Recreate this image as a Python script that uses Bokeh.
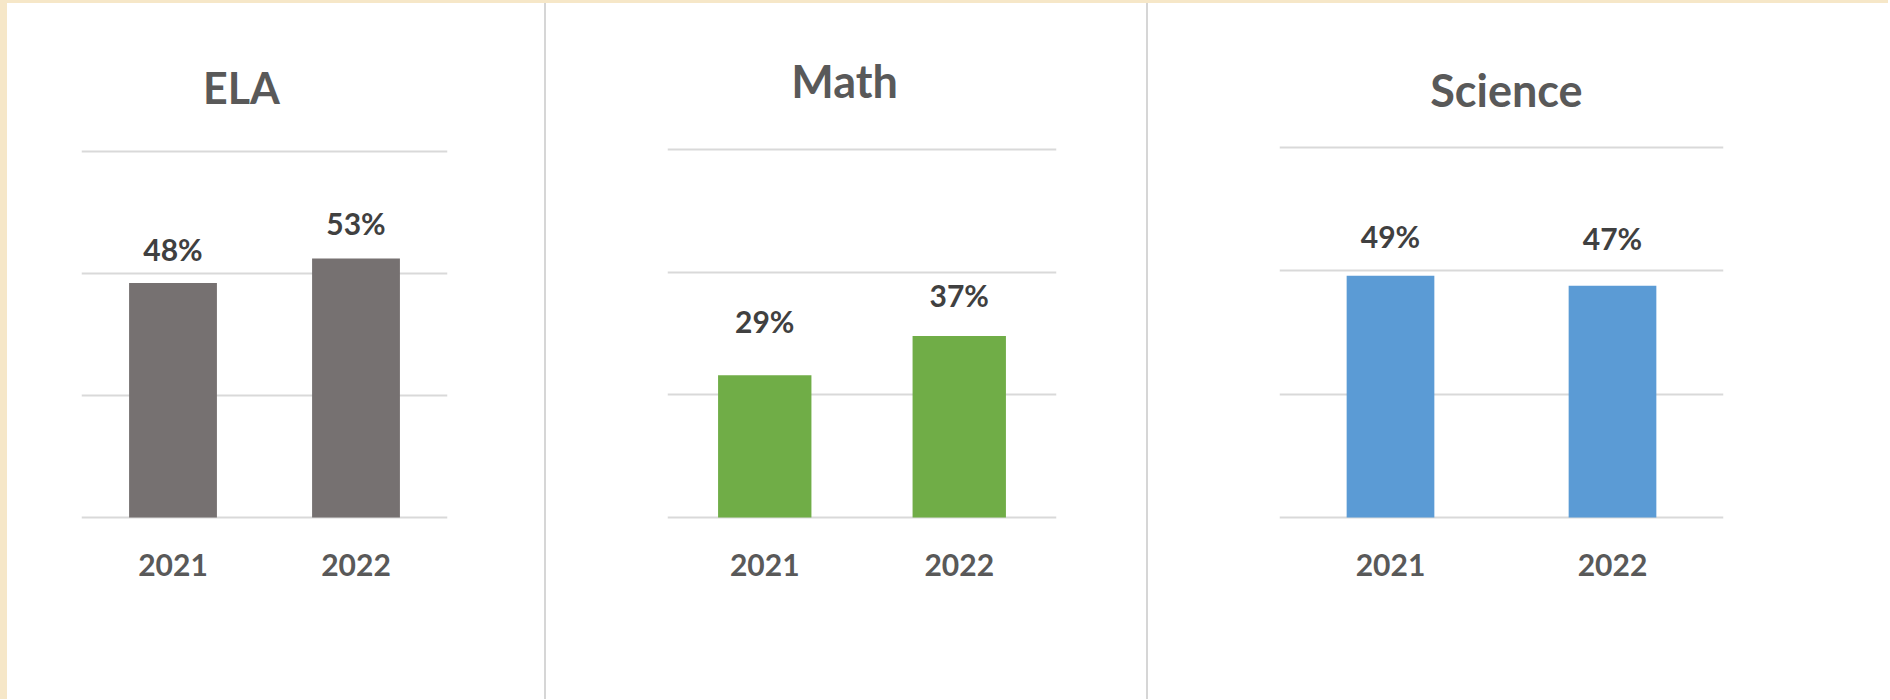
from bokeh.plotting import figure
from bokeh.layouts import row, column
from bokeh.models import ColumnDataSource, Range1d, FactorRange, Label, FixedTicker, Spacer
from bokeh.core.properties import value
from bokeh.embed import file_html
from bokeh.resources import INLINE

# ---- data ----
subjects = ["ELA", "Math", "Science"]
years = ["2021", "2022"]
ela_values = [48, 53]
math_values = [29, 37]
science_values = [49, 47]
grid_ticks = [0, 25, 50, 75]
axis_max = 75

# ---- styles ----
FONT = "Lato"
CREAM = "#F6E7C8"
SEP = "#D6D6D6"
colors = ["#767171", "#70AD47", "#5B9BD5"]
label_offsets = [[-34, -36], [-54, -41], [-40, -48]]
bar_widths = [0.48, 0.48, 0.395]
title_pos = [(0.874, 88.0), (0.91, 88.9), (1.022, 86.6)]
title_sizes = ["43px", "45px", "45px"]
H = 696
PAD_BELOW = 4  # pixels of frame kept below the 0% line so it stays visible
dims = [
    # width, left, right, gap above the 75% line, gap below the 0% line (pixels)
    (537, 74, 97, 149, 177),
    (600, 121, 90, 146, 182),
    (740, 131, 165, 144, 182),
]


def make_panel(name, vals, color, offs, bw, tpos, tsize, dim):
    w, l, r, t, b = dim
    core_h = H - b - t
    px = core_h / axis_max
    y_end = axis_max + t / px
    y_start = -PAD_BELOW / px
    src = ColumnDataSource(dict(
        year=years, val=vals,
        lab=[f"{v}%" for v in vals], dy=offs,
    ))
    p = figure(
        x_range=FactorRange(*years), y_range=Range1d(y_start, y_end),
        width=w, height=H, output_backend="svg", toolbar_location=None,
        min_border_left=l, min_border_right=r,
        min_border_top=0, min_border_bottom=b - PAD_BELOW,
    )
    p.background_fill_color = "white"
    p.border_fill_color = "white"
    p.outline_line_color = None
    p.ygrid.level = "underlay"
    p.vbar(x="year", top="val", bottom=0, width=bw, source=src,
           color=color, line_color=None)
    p.text(x="year", y="val", text="lab", y_offset="dy", source=src,
           text_align="center", text_baseline="middle",
           text_font=value(FONT), text_font_style="bold",
           text_font_size="30px", text_color="#404040")
    p.yaxis.visible = False
    p.yaxis.ticker = FixedTicker(ticks=grid_ticks)
    p.ygrid.ticker = FixedTicker(ticks=grid_ticks)
    p.ygrid.grid_line_color = "#D9D9D9"
    p.ygrid.grid_line_width = 2
    p.xgrid.grid_line_color = None
    ax = p.xaxis[0]
    ax.axis_line_color = None
    ax.major_tick_line_color = None
    ax.minor_tick_line_color = None
    ax.major_tick_out = 0
    ax.major_label_standoff = 36 - PAD_BELOW
    ax.major_label_text_font = FONT
    ax.major_label_text_font_style = "bold"
    ax.major_label_text_font_size = "30px"
    ax.major_label_text_color = "#595959"
    p.add_layout(Label(x=tpos[0], y=tpos[1], text=name,
                       text_align="center", text_baseline="middle",
                       text_font=FONT, text_font_style="bold",
                       text_font_size=tsize, text_color="#595959"))
    return p


all_vals = [ela_values, math_values, science_values]
panels = [
    make_panel(subjects[i], all_vals[i], colors[i], label_offsets[i],
               bar_widths[i], title_pos[i], title_sizes[i], dims[i])
    for i in range(3)
]

total_w = 7 + sum(d[0] for d in dims) + 4
body = row(
    Spacer(width=7, height=H, styles={"background-color": CREAM}),
    panels[0],
    Spacer(width=2, height=H, styles={"background-color": SEP}),
    panels[1],
    Spacer(width=2, height=H, styles={"background-color": SEP}),
    panels[2],
    spacing=0,
)
layout = column(
    Spacer(width=total_w, height=3, styles={"background-color": CREAM}),
    body,
    spacing=0,
)

open("out.html", "w").write(file_html(layout, INLINE))
